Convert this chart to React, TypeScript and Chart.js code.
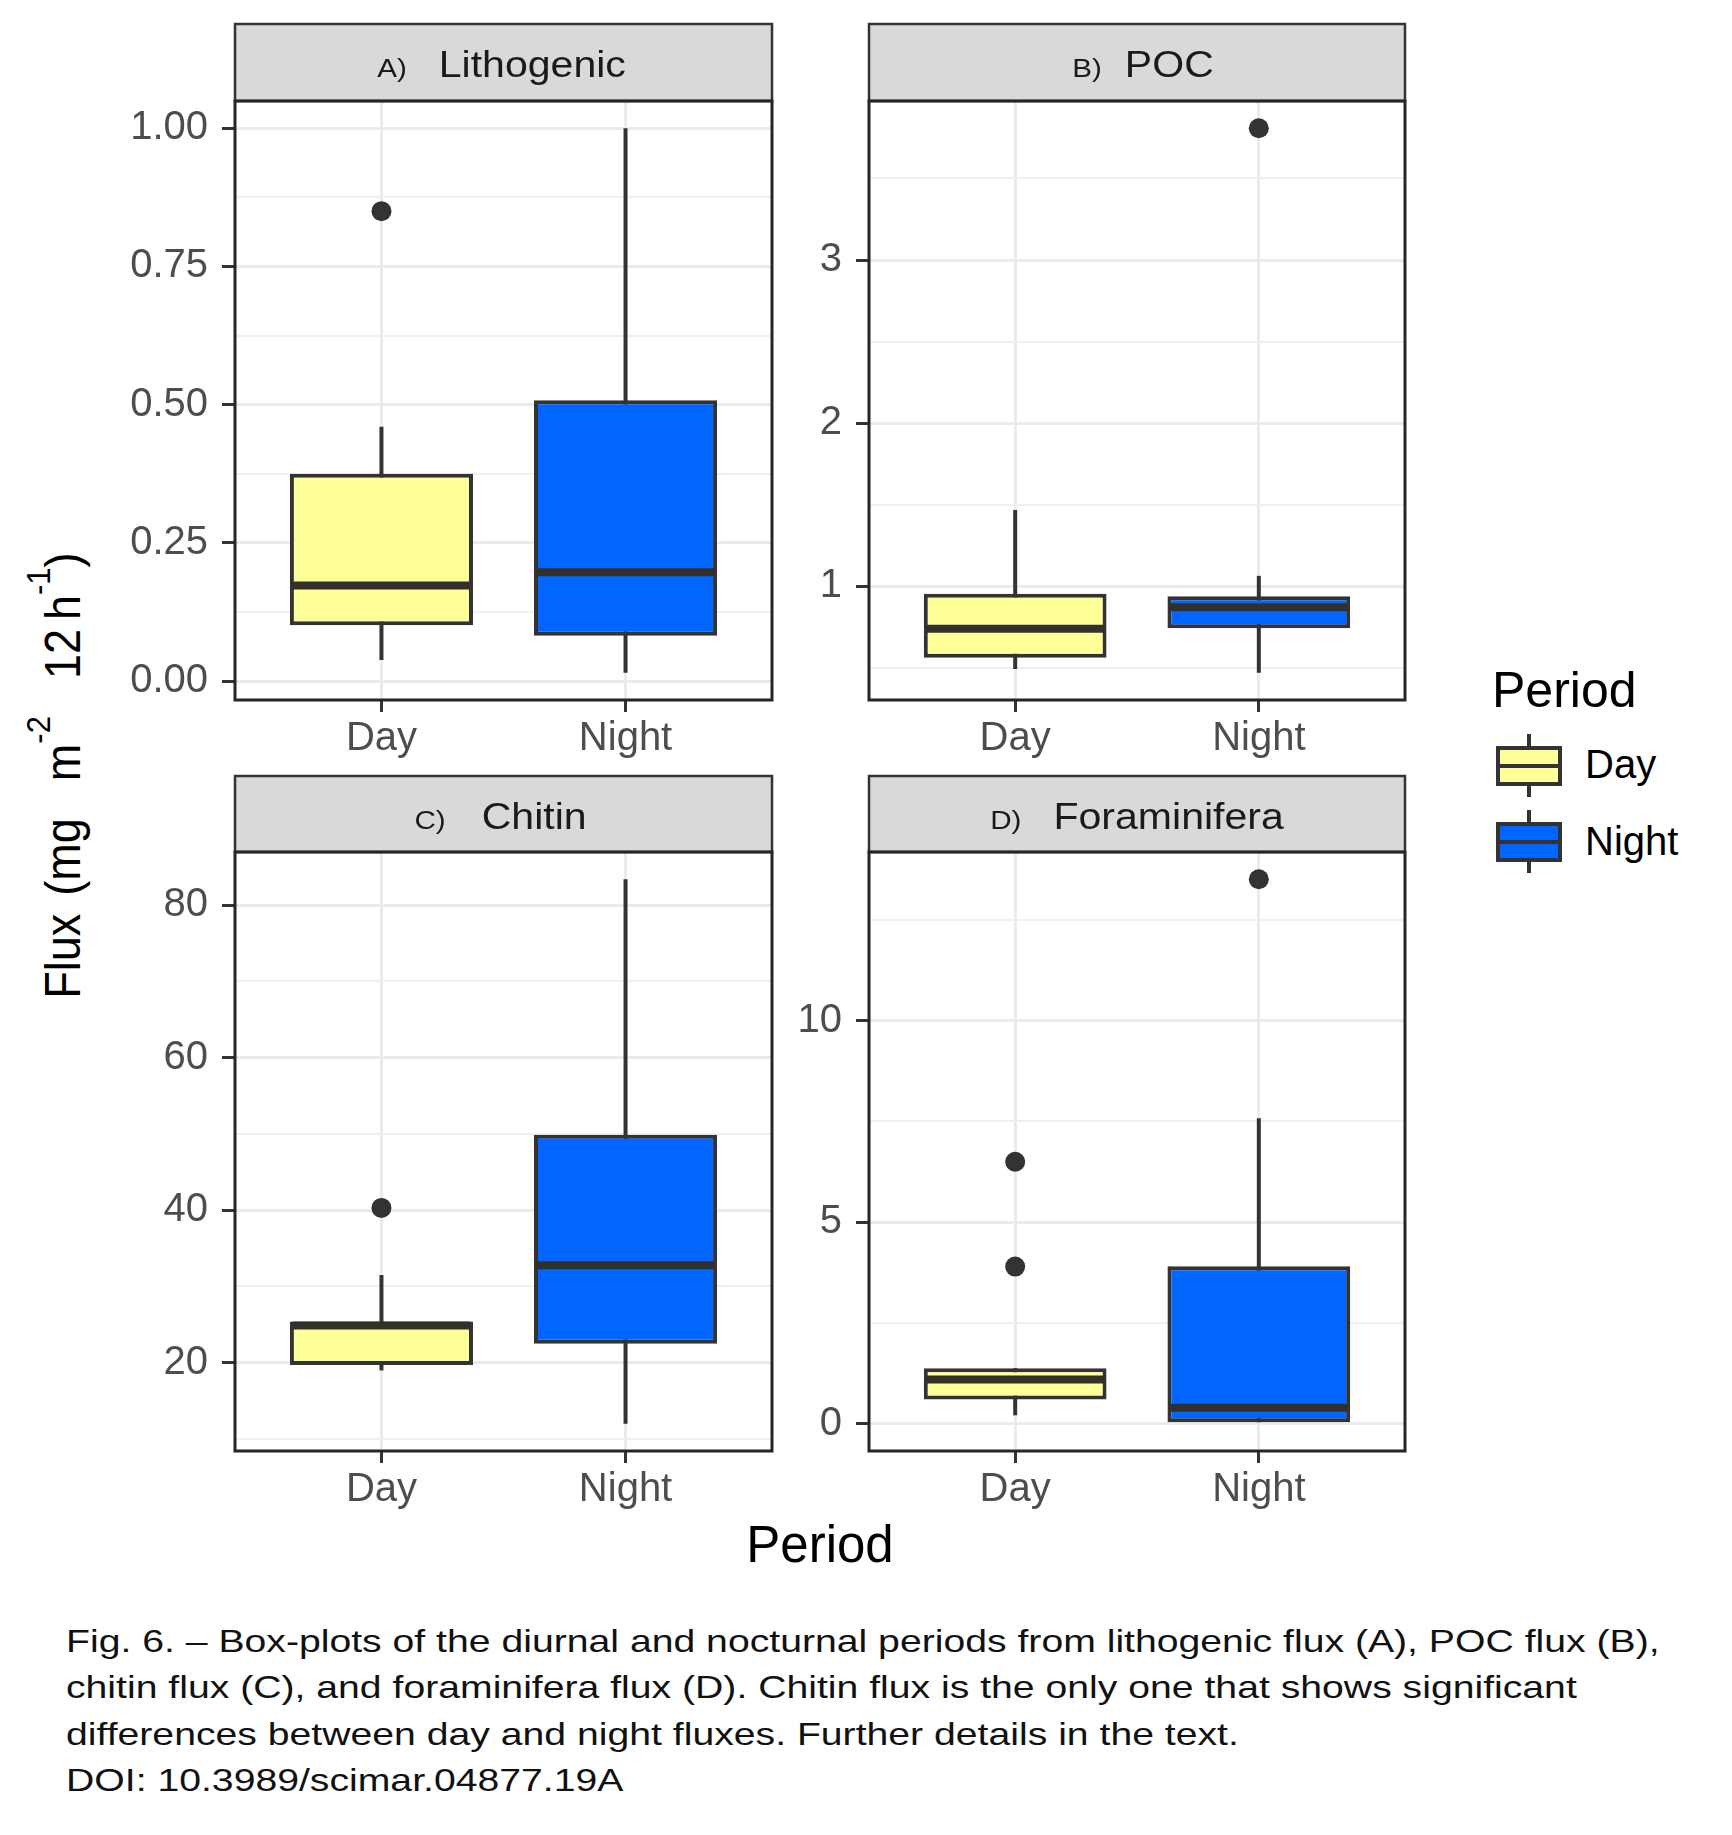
import React, { useEffect, useRef } from "react";
import { Chart, registerables } from "chart.js";

Chart.register(...registerables);

// ---------------- data ----------------
const periods = ["Day", "Night"];
const periodX = [1, 2];

// A) Lithogenic
const lithoMin = [0.038, 0.015];
const lithoQ1 = [0.101, 0.082];
const lithoMedian = [0.173, 0.197];
const lithoQ3 = [0.375, 0.508];
const lithoMax = [0.46, 1.0];
const lithoOutliers = [[0.85], []];
const lithoTicks = [0, 0.25, 0.5, 0.75, 1.0];
const lithoTickLabels = ["0.00", "0.25", "0.50", "0.75", "1.00"];
const lithoMinorTicks = [0.125, 0.375, 0.625, 0.875];

// B) POC
const pocMin = [0.494, 0.471];
const pocQ1 = [0.563, 0.744];
const pocMedian = [0.741, 0.872];
const pocQ3 = [0.955, 0.94];
const pocMax = [1.469, 1.065];
const pocOutliers = [[], [3.808]];
const pocTicks = [1, 2, 3];
const pocTickLabels = ["1", "2", "3"];
const pocMinorTicks = [0.5, 1.5, 2.5, 3.5];

// C) Chitin
const chitinMin = [19.0, 12.0];
const chitinQ1 = [19.7, 22.5];
const chitinMedian = [24.9, 32.8];
const chitinQ3 = [25.4, 49.9];
const chitinMax = [31.5, 83.4];
const chitinOutliers = [[40.3], []];
const chitinTicks = [20, 40, 60, 80];
const chitinTickLabels = ["20", "40", "60", "80"];
const chitinMinorTicks = [10, 30, 50, 70];

// D) Foraminifera
const foramMin = [0.21, 0.0];
const foramQ1 = [0.6, 0.0];
const foramMedian = [1.1, 0.4];
const foramQ3 = [1.38, 3.91];
const foramMax = [1.38, 7.58];
const foramOutliers = [[3.9, 6.5], [13.51]];
const foramTicks = [0, 5, 10];
const foramTickLabels = ["0", "5", "10"];
const foramMinorTicks = [2.5, 7.5, 12.5];

const panelLetters = ["A)", "B)", "C)", "D)"];
const panelTitles = ["Lithogenic", "POC", "Chitin", "Foraminifera"];

const captionLines = [
  "Fig. 6. \u2013 Box-plots of the diurnal and nocturnal periods from lithogenic flux (A), POC flux (B),",
  "chitin flux (C), and foraminifera flux (D). Chitin flux is the only one that shows significant",
  "differences between day and night fluxes. Further details in the text.",
  "DOI: 10.3989/scimar.04877.19A",
];

// ---------------- styles ----------------
const FONT = "'Liberation Sans', Arial, Helvetica, sans-serif";
const LINE = "#333333";
const DAY_FILL = "#FFFF99";
const NIGHT_FILL = "#0066FF";
const FILLS = [DAY_FILL, NIGHT_FILL];
const MAJOR_GRID = "#ebebeb";
const MINOR_GRID = "#f0f0f0";
const TICK_TEXT = "#4d4d4d";
const STRETCH = 1.14; // horizontal stretch of the reference's text

type PanelSpec = {
  min: number[];
  q1: number[];
  median: number[];
  q3: number[];
  max: number[];
  outliers: number[][];
  ticks: number[];
  tickLabels: string[];
  minorTicks: number[];
  letter: string;
  title: string;
};

const specs: PanelSpec[] = [
  { min: lithoMin, q1: lithoQ1, median: lithoMedian, q3: lithoQ3, max: lithoMax, outliers: lithoOutliers, ticks: lithoTicks, tickLabels: lithoTickLabels, minorTicks: lithoMinorTicks, letter: panelLetters[0], title: panelTitles[0] },
  { min: pocMin, q1: pocQ1, median: pocMedian, q3: pocQ3, max: pocMax, outliers: pocOutliers, ticks: pocTicks, tickLabels: pocTickLabels, minorTicks: pocMinorTicks, letter: panelLetters[1], title: panelTitles[1] },
  { min: chitinMin, q1: chitinQ1, median: chitinMedian, q3: chitinQ3, max: chitinMax, outliers: chitinOutliers, ticks: chitinTicks, tickLabels: chitinTickLabels, minorTicks: chitinMinorTicks, letter: panelLetters[2], title: panelTitles[2] },
  { min: foramMin, q1: foramQ1, median: foramMedian, q3: foramQ3, max: foramMax, outliers: foramOutliers, ticks: foramTicks, tickLabels: foramTickLabels, minorTicks: foramMinorTicks, letter: panelLetters[3], title: panelTitles[3] },
];

// layout: canvas rectangle and panel (chart area) rectangle, in page pixels
type Box = { cx: number; cy: number; cw: number; ch: number; left: number; right: number; top: number; bottom: number; stripTop: number; gap: number; shift: number };
const boxes: Box[] = [
  { cx: 100, cy: 14, cw: 690, ch: 756, left: 235, right: 772, top: 101, bottom: 700, stripTop: 24, gap: 32, shift: -2 },
  { cx: 790, cy: 14, cw: 635, ch: 756, left: 869, right: 1405, top: 101, bottom: 700, stripTop: 24, gap: 23, shift: 6 },
  { cx: 100, cy: 766, cw: 690, ch: 755, left: 235, right: 772, top: 852, bottom: 1451, stripTop: 776, gap: 36, shift: -3 },
  { cx: 790, cy: 766, cw: 635, ch: 755, left: 869, right: 1405, top: 852, bottom: 1451, stripTop: 776, gap: 32, shift: 0 },
];

function buildConfig(p: PanelSpec, b: Box): any {
  const pts: { x: number; y: number }[] = [];
  p.outliers.forEach((arr, i) => arr.forEach((v) => pts.push({ x: periodX[i], y: v })));
  const all = [...p.min, ...p.max, ...p.outliers.flat()];
  const lo = Math.min(...all);
  const hi = Math.max(...all);
  const pad = (hi - lo) * 0.05;
  const yMin = lo - pad;
  const yMax = hi + pad;
  const isMinor = (v: number) => !p.ticks.includes(v);

  const panelPlugin = {
    id: "panelDecor",
    afterDatasetsDraw(chart: any) {
      const ctx = chart.ctx;
      const xs = chart.scales.x;
      const ys = chart.scales.y;
      const boxMeta = chart.getDatasetMeta(1);
      ctx.save();
      ctx.strokeStyle = "#332f2b";
      ctx.lineWidth = 8;
      ctx.lineCap = "butt";
      p.median.forEach((m, i) => {
        const el = boxMeta.data[i];
        const x = xs.getPixelForValue(periodX[i]);
        const w = el ? el.width : 180;
        const y = ys.getPixelForValue(m);
        ctx.beginPath();
        ctx.moveTo(x - w / 2 + 3, y);
        ctx.lineTo(x + w / 2 - 3, y);
        ctx.stroke();
      });
      ctx.restore();
    },
    afterDraw(chart: any) {
      const ctx = chart.ctx;
      const a = chart.chartArea;
      const st = b.stripTop - b.cy;
      ctx.save();
      // strip
      ctx.fillStyle = "#d9d9d9";
      ctx.fillRect(a.left, st, a.right - a.left, a.top - st);
      ctx.strokeStyle = LINE;
      ctx.lineWidth = 2.5;
      ctx.strokeRect(a.left, st, a.right - a.left, a.top - st);
      // strip label (horizontally stretched like the reference)
      ctx.fillStyle = "#1a1a1a";
      ctx.textBaseline = "alphabetic";
      ctx.font = `26px ${FONT}`;
      const w1 = ctx.measureText(p.letter).width * STRETCH;
      ctx.font = `36px ${FONT}`;
      const w2 = ctx.measureText(p.title).width * STRETCH;
      const start = (a.left + a.right) / 2 - (w1 + b.gap + w2) / 2 + b.shift;
      const base = st + 52.7;
      ctx.save();
      ctx.translate(start, base);
      ctx.scale(STRETCH, 1);
      ctx.font = `26px ${FONT}`;
      ctx.fillText(p.letter, 0, 0);
      ctx.restore();
      ctx.save();
      ctx.translate(start + w1 + b.gap, base);
      ctx.scale(STRETCH, 1);
      ctx.font = `36px ${FONT}`;
      ctx.fillText(p.title, 0, 0);
      ctx.restore();
      // panel border
      ctx.strokeStyle = "#262626";
      ctx.lineWidth = 3;
      ctx.strokeRect(a.left, a.top, a.right - a.left, a.bottom - a.top);
      ctx.restore();
    },
  };

  return {
    type: "bar",
    data: {
      datasets: [
        {
          type: "bar",
          label: "whisker",
          data: periodX.map((x, i) => ({ x, y: [p.min[i], p.max[i]] })),
          backgroundColor: LINE,
          borderWidth: 0,
          maxBarThickness: 4,
          grouped: false,
          categoryPercentage: 1,
          barPercentage: 0.75,
          order: 3,
        },
        {
          type: "bar",
          label: "box",
          data: periodX.map((x, i) => ({ x, y: [p.q1[i], p.q3[i]] })),
          backgroundColor: FILLS,
          borderColor: LINE,
          borderWidth: 4,
          borderSkipped: false,
          grouped: false,
          categoryPercentage: 1,
          barPercentage: 0.75,
          order: 2,
        },
        {
          type: "scatter",
          label: "outliers",
          data: pts,
          pointRadius: 10,
          pointBackgroundColor: "#333333",
          pointBorderWidth: 0,
          backgroundColor: "#333333",
          borderWidth: 0,
          order: 1,
        },
      ],
    },
    options: {
      responsive: false,
      animation: false,
      events: [],
      layout: { padding: { left: 0, top: b.top - b.cy, right: b.cx + b.cw - b.right, bottom: 0 } },
      plugins: { legend: { display: false }, tooltip: { enabled: false }, title: { display: false } },
      scales: {
        x: {
          type: "linear",
          min: 0.4,
          max: 2.6,
          offset: false,
          afterBuildTicks: (s: any) => {
            s.ticks = periodX.map((v) => ({ value: v }));
          },
          afterFit: (s: any) => {
            s.height = b.cy + b.ch - b.bottom;
          },
          ticks: {
            autoSkip: false,
            maxRotation: 0,
            minRotation: 0,
            font: { family: FONT, size: 40 },
            color: TICK_TEXT,
            padding: 3,
            callback: (v: number) => periods[periodX.indexOf(v)] ?? "",
          },
          grid: { offset: false, color: MAJOR_GRID, lineWidth: 3, tickLength: 12, tickColor: LINE, tickWidth: 3 },
          border: { display: false },
        },
        y: {
          type: "linear",
          min: yMin,
          max: yMax,
          afterBuildTicks: (s: any) => {
            const vals = [...p.ticks, ...p.minorTicks].filter((v) => v >= yMin && v <= yMax).sort((m, n) => m - n);
            s.ticks = vals.map((v) => ({ value: v }));
          },
          afterFit: (s: any) => {
            s.width = b.left - b.cx;
          },
          ticks: {
            autoSkip: false,
            font: { family: FONT, size: 40 },
            color: TICK_TEXT,
            padding: 14,
            callback: (v: number) => {
              const k = p.ticks.indexOf(v);
              return k >= 0 ? p.tickLabels[k] : "";
            },
          },
          grid: {
            color: (c: any) => (c.tick && isMinor(c.tick.value) ? MINOR_GRID : MAJOR_GRID),
            lineWidth: (c: any) => (c.tick && isMinor(c.tick.value) ? 2 : 3),
            tickLength: 13,
            tickColor: (c: any) => (c.tick && isMinor(c.tick.value) ? "rgba(0,0,0,0)" : LINE),
            tickWidth: 3,
          },
          border: { display: false },
        },
      },
    },
    plugins: [panelPlugin],
  };
}

function Panel({ spec, box }: { spec: PanelSpec; box: Box }) {
  const ref = useRef<HTMLCanvasElement>(null);
  useEffect(() => {
    const chart = new Chart(ref.current as HTMLCanvasElement, buildConfig(spec, box));
    return () => chart.destroy();
  }, [spec, box]);
  return (
    <canvas
      ref={ref}
      width={box.cw}
      height={box.ch}
      style={{ position: "absolute", left: box.cx, top: box.cy, width: box.cw, height: box.ch }}
    />
  );
}

// text placed by baseline (line-height 1 -> baseline at 0.8465em for Arial metrics)
function Txt({ x, base, size, children, align = "left", color = "#000", width = 1400, sx = 1 }: any) {
  const top = base - 0.8465 * size;
  let left = x;
  if (align === "center") left = x - width / 2;
  return (
    <div
      style={{
        position: "absolute",
        left,
        top,
        width: align === "center" ? width : undefined,
        textAlign: align,
        fontFamily: FONT,
        fontSize: size,
        lineHeight: 1,
        color,
        whiteSpace: "pre",
        transform: sx !== 1 ? `scaleX(${sx})` : undefined,
        transformOrigin: align === "center" ? "50% 50%" : "0 50%",
      }}
    >
      {children}
    </div>
  );
}

function LegendKey({ top, fill }: { top: number; fill: string }) {
  return (
    <>
      <div style={{ position: "absolute", left: 1527, top: top - 12, width: 4, height: 63, background: LINE }} />
      <div
        style={{
          position: "absolute",
          left: 1496,
          top,
          width: 66,
          height: 40,
          background: fill,
          border: `4px solid ${LINE}`,
          boxSizing: "border-box",
        }}
      />
      <div style={{ position: "absolute", left: 1496, top: top + 18, width: 66, height: 4, background: LINE }} />
    </>
  );
}

export default function App() {
  const yTitleSize = 45;
  const yStretch = 1.1;
  const yTitleCx = 80 - 0.3465 * yTitleSize * yStretch;
  const yTitleCy = 775.5;
  const supStyle: any = { fontSize: 31, position: "relative", top: -27 };
  return (
    <div style={{ position: "absolute", left: 0, top: 0, width: 1732, height: 1835, background: "#fff", overflow: "hidden" }}>
      {specs.map((s, i) => (
        <Panel key={i} spec={s} box={boxes[i]} />
      ))}

      {/* y-axis title */}
      <div
        style={{
          position: "absolute",
          left: yTitleCx - 350,
          top: yTitleCy - yTitleSize / 2,
          width: 700,
          height: yTitleSize,
          lineHeight: 1,
          fontFamily: FONT,
          fontSize: yTitleSize,
          textAlign: "center",
          whiteSpace: "pre",
          color: "#000",
          transform: `scaleX(${yStretch}) rotate(-90deg)`,
          transformOrigin: "50% 50%",
        }}
      >
        <span>Flux</span>
        <span style={{ marginLeft: 18 }}>(mg</span>
        <span style={{ marginLeft: 37 }}>m</span>
        <span style={supStyle}>-2</span>
        <span style={{ marginLeft: 37 }}>12</span>
        <span style={{ marginLeft: 9 }}>h</span>
        <span style={supStyle}>-1</span>
        <span>)</span>
      </div>

      {/* x-axis title */}
      <Txt x={820} base={1562} size={51} align="center" width={400}>
        Period
      </Txt>

      {/* legend */}
      <Txt x={1492} base={707} size={50}>
        Period
      </Txt>
      <LegendKey top={746} fill={DAY_FILL} />
      <LegendKey top={822} fill={NIGHT_FILL} />
      <Txt x={1585} base={778} size={40}>
        {periods[0]}
      </Txt>
      <Txt x={1585} base={855} size={40}>
        {periods[1]}
      </Txt>

      {/* caption */}
      {captionLines.map((l, i) => (
        <Txt key={i} x={66} base={1652 + i * 46.5} size={32} sx={1.224} color="#111">
          {l}
        </Txt>
      ))}
    </div>
  );
}
